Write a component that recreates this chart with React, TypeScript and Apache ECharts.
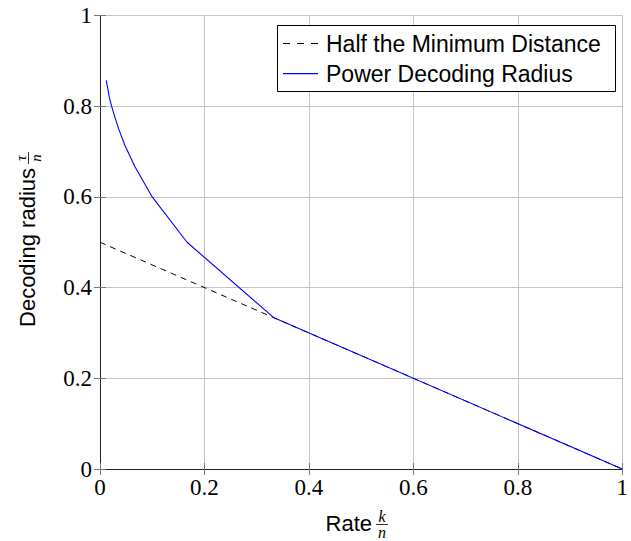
import React, { useEffect, useRef } from "react";
import * as echarts from "echarts";

const xTicks = [0, 0.2, 0.4, 0.6, 0.8, 1];
const yTicks = [0, 0.2, 0.4, 0.6, 0.8, 1];

const halfRate = [0, 1];
const halfRadius = [0.5, 0];

const powerRate = [0.012, 0.0182, 0.0222, 0.0278, 0.0357, 0.0476, 0.0667, 0.1, 0.1667, 0.3333, 1];
const powerRadius = [0.857, 0.818, 0.8, 0.778, 0.75, 0.714, 0.667, 0.6, 0.5, 0.3333, 0];

const seriesNames = ["Half the Minimum Distance", "Power Decoding Radius"];

const SANS = "Liberation Sans";
const SERIF = "Liberation Serif";
const BLUE = "#0000ff";

export default function App() {
  const ref = useRef<HTMLDivElement>(null);
  useEffect(() => {
    if (!ref.current) return;
    const chart = echarts.init(ref.current, null, { renderer: "svg" });
    const halfData = halfRate.map((x, i) => [x, halfRadius[i]]);
    const powerData = powerRate.map((x, i) => [x, powerRadius[i]]);
    const tickFmt = (v: number) => String(Math.round(v * 10) / 10);
    const axisLine = { show: true, lineStyle: { color: "#222", width: 1 } };
    const axisTick = { show: true, inside: true, length: 6, lineStyle: { color: "#777", width: 1 } };
    const fracText = (x: number, y: number, t: string, size: number) => ({
      type: "text",
      x,
      y,
      style: {
        text: t,
        fontFamily: SERIF,
        fontStyle: "italic",
        fontSize: size,
        fill: "#000",
        align: "center",
        verticalAlign: "middle",
      },
    });
    chart.setOption({
      animation: false,
      grid: { left: 100, top: 15.5, right: 5, bottom: 72 },
      xAxis: [
        {
          type: "value",
          min: 0,
          max: 1,
          interval: 0.2,
          position: "bottom",
          axisLine,
          axisTick,
          axisLabel: {
            fontFamily: SERIF,
            fontSize: 23,
            color: "#000",
            margin: 7,
            formatter: tickFmt,
            customValues: xTicks,
          },
          splitLine: { show: true, lineStyle: { color: "#c4c4c4", width: 1 } },
        },
        {
          type: "value",
          min: 0,
          max: 1,
          interval: 0.2,
          position: "top",
          axisLine,
          axisTick,
          axisLabel: { show: false },
          splitLine: { show: false },
        },
      ],
      yAxis: [
        {
          type: "value",
          min: 0,
          max: 1,
          interval: 0.2,
          position: "left",
          axisLine,
          axisTick,
          axisLabel: {
            fontFamily: SERIF,
            fontSize: 23,
            color: "#000",
            margin: 8,
            formatter: tickFmt,
            customValues: yTicks,
          },
          splitLine: { show: true, lineStyle: { color: "#c4c4c4", width: 1 } },
        },
        {
          type: "value",
          min: 0,
          max: 1,
          interval: 0.2,
          position: "right",
          axisLine,
          axisTick,
          axisLabel: { show: false },
          splitLine: { show: false },
        },
      ],
      series: [
        {
          name: seriesNames[0],
          type: "line",
          data: halfData,
          symbol: "none",
          lineStyle: { color: "#000", width: 1, type: [6, 5] },
        },
        {
          name: seriesNames[1],
          type: "line",
          data: powerData,
          symbol: "none",
          lineStyle: { color: BLUE, width: 1.1 },
        },
      ],
      graphic: [
        {
          type: "rect",
          shape: { x: 277.5, y: 25.5, width: 338, height: 66 },
          style: { fill: "#fff", stroke: "#000", lineWidth: 1 },
          z: 100,
        },
        {
          type: "line",
          shape: { x1: 283, y1: 43.5, x2: 318, y2: 43.5 },
          style: { stroke: "#000", lineWidth: 1, lineDash: [7, 7] },
          z: 101,
        },
        {
          type: "rect",
          shape: { x: 283, y: 73, width: 35, height: 1.2 },
          style: { fill: BLUE, stroke: null },
          z: 101,
        },
        {
          type: "text",
          x: 326,
          y: 44,
          z: 101,
          style: {
            text: seriesNames[0],
            fontFamily: SANS,
            fontSize: 23,
            fill: "#000",
            align: "left",
            verticalAlign: "middle",
          },
        },
        {
          type: "text",
          x: 326,
          y: 74,
          z: 101,
          style: {
            text: seriesNames[1],
            fontFamily: SANS,
            fontSize: 23,
            fill: "#000",
            align: "left",
            verticalAlign: "middle",
          },
        },
        {
          type: "text",
          x: 372,
          y: 523,
          style: {
            text: "Rate",
            fontFamily: SANS,
            fontSize: 22,
            fill: "#000",
            align: "right",
            verticalAlign: "middle",
          },
        },
        fracText(382, 516, "k", 16),
        {
          type: "line",
          shape: { x1: 376, y1: 524.5, x2: 388, y2: 524.5 },
          style: { stroke: "#000", lineWidth: 0.8 },
        },
        fracText(382, 532, "n", 16),
        {
          type: "group",
          x: 27,
          y: 245,
          rotation: Math.PI / 2,
          children: [
            {
              type: "text",
              x: 77,
              y: 0,
              style: {
                text: "Decoding radius",
                fontFamily: SANS,
                fontSize: 22,
                fill: "#000",
                align: "right",
                verticalAlign: "middle",
              },
            },
            fracText(87, -6, "τ", 15),
            {
              type: "line",
              shape: { x1: 81, y1: 1.5, x2: 93, y2: 1.5 },
              style: { stroke: "#000", lineWidth: 0.8 },
            },
            fracText(87, 9, "n", 15),
          ],
        },
      ],
    });
    return () => chart.dispose();
  }, []);
  return <div ref={ref} style={{ width: 631, height: 541, position: "absolute", left: 0, top: 0 }} />;
}
